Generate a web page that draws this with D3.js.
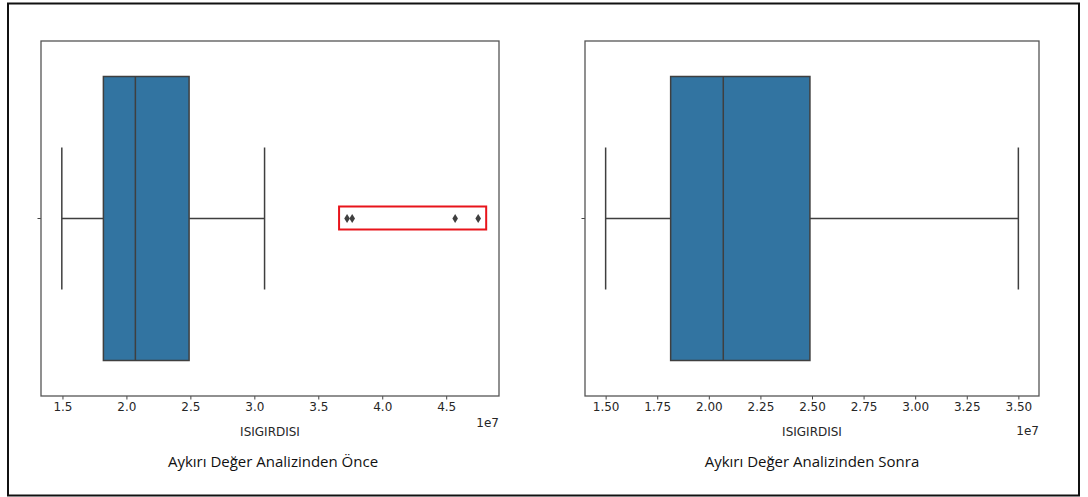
<!DOCTYPE html>
<html>
<head>
<meta charset="utf-8">
<script src="https://cdn.jsdelivr.net/npm/d3@7"></script>
<style>
  body { margin: 0; background: #fff; }
  svg { display: block; }
</style>
</head>
<body>
<svg id="chart" width="1088" height="497"></svg>
<script>
// box summaries (values in units of 1e7)
var beforeBox = [1.495, 1.82, 2.07, 2.49, 3.08];   // whisker low, q1, median, q3, whisker high
var beforeOutliers = [3.725, 3.765, 4.57, 4.75];
var beforeTicks = [1.5, 2.0, 2.5, 3.0, 3.5, 4.0, 4.5];

var afterBox = [1.5, 1.815, 2.07, 2.49, 3.5];
var afterOutliers = [];
var afterTicks = [1.5, 1.75, 2.0, 2.25, 2.5, 2.75, 3.0, 3.25, 3.5];

var xLabel = 'ISIGIRDISI';
var captions = ['Aykırı Değer Analizinden Önce', 'Aykırı Değer Analizinden Sonra'];

var svg = d3.select('#chart');
var boxFill = '#3274a1';
var lineColor = '#3f3f3f';

// outer frame
svg.append('rect')
    .attr('x', 8).attr('y', 3.5)
    .attr('width', 1071).attr('height', 492)
    .attr('fill', 'none').attr('stroke', '#111').attr('stroke-width', 2);

var drawPanel = function(opts) {
    var left = opts.left, right = opts.right, top = 41, bottom = 396;
    var all = opts.box.concat(opts.outliers);
    var lo = d3.min(all), hi = d3.max(all);
    var pad = (hi - lo) * 0.05;

    var x = d3.scaleLinear().domain([lo - pad, hi + pad]).range([left, right]);
    var y = d3.scaleLinear().domain([-0.5, 0.5]).range([top, bottom]);

    var g = svg.append('g');

    // x axis
    var axis = d3.axisBottom(x)
        .tickValues(opts.ticks)
        .tickSize(3.5)
        .tickPadding(3)
        .tickFormat(d3.format(opts.fmt));
    var ax = g.append('g')
        .attr('transform', 'translate(0,' + bottom + ')')
        .call(axis);
    ax.select('.domain').remove();
    ax.selectAll('line').attr('stroke', '#444').attr('stroke-width', 1);
    ax.selectAll('text')
        .attr('fill', '#262626')
        .style('font-family', 'DejaVu Sans, sans-serif')
        .style('font-size', '12px');

    // lone y tick
    g.append('line')
        .attr('x1', left - 3.5).attr('x2', left)
        .attr('y1', y(0)).attr('y2', y(0))
        .attr('stroke', '#444');

    var b = opts.box;
    var cy = y(0);
    var bw = y(0.4) - y(0);
    var cw = bw / 2;

    // whiskers
    g.append('line')
        .attr('x1', x(b[0])).attr('x2', x(b[1]))
        .attr('y1', cy).attr('y2', cy)
        .attr('stroke', lineColor).attr('stroke-width', 1.5);
    g.append('line')
        .attr('x1', x(b[3])).attr('x2', x(b[4]))
        .attr('y1', cy).attr('y2', cy)
        .attr('stroke', lineColor).attr('stroke-width', 1.5);
    [b[0], b[4]].forEach(function(v) {
        g.append('line')
            .attr('x1', x(v)).attr('x2', x(v))
            .attr('y1', cy - cw).attr('y2', cy + cw)
            .attr('stroke', lineColor).attr('stroke-width', 1.5);
    });

    // box
    g.append('rect')
        .attr('x', x(b[1])).attr('y', cy - bw)
        .attr('width', x(b[3]) - x(b[1])).attr('height', bw * 2)
        .attr('fill', boxFill)
        .attr('stroke', lineColor).attr('stroke-width', 1.5);
    g.append('line')
        .attr('x1', x(b[2])).attr('x2', x(b[2]))
        .attr('y1', cy - bw).attr('y2', cy + bw)
        .attr('stroke', lineColor).attr('stroke-width', 1.5);

    // outliers as diamonds
    g.selectAll('path.flier')
        .data(opts.outliers)
        .enter().append('path')
        .attr('class', 'flier')
        .attr('d', function(d) {
            var px = x(d);
            return 'M ' + px + ' ' + (cy - 4.5) + ' L ' + (px + 2.8) + ' ' + cy +
                ' L ' + px + ' ' + (cy + 4.5) + ' L ' + (px - 2.8) + ' ' + cy + ' z';
        })
        .attr('fill', '#3f3f3f');

    // axes frame
    g.append('rect')
        .attr('x', left).attr('y', top)
        .attr('width', right - left).attr('height', bottom - top)
        .attr('fill', 'none').attr('stroke', '#555').attr('stroke-width', 1.3);

    // labels
    g.append('text')
        .attr('x', (left + right) / 2).attr('y', 436)
        .attr('text-anchor', 'middle')
        .attr('fill', '#262626')
        .style('font-family', 'DejaVu Sans, sans-serif')
        .style('font-size', '12px')
        .text(xLabel);
    g.append('text')
        .attr('x', right).attr('y', opts.offsetY)
        .attr('text-anchor', 'end')
        .attr('fill', '#262626')
        .style('font-family', 'DejaVu Sans, sans-serif')
        .style('font-size', '12px')
        .text('1e7');
    g.append('text')
        .attr('x', opts.captionX).attr('y', 467)
        .attr('text-anchor', 'middle')
        .attr('fill', '#111')
        .style('font-family', 'Open Sans, sans-serif')
        .style('font-size', '15px')
        .text(opts.caption);

    return x;
};

var xBefore = drawPanel({
    left: 41, right: 499, box: beforeBox, outliers: beforeOutliers,
    ticks: beforeTicks, fmt: '.1f', offsetY: 427, caption: captions[0], captionX: 273
});
drawPanel({
    left: 585, right: 1039, box: afterBox, outliers: afterOutliers,
    ticks: afterTicks, fmt: '.2f', offsetY: 435, caption: captions[1], captionX: 812
});

// red highlight around the outliers
var lo = d3.min(beforeOutliers), hi = d3.max(beforeOutliers);
svg.append('rect')
    .attr('x', xBefore(lo) - 8).attr('y', 206.5)
    .attr('width', xBefore(hi) - xBefore(lo) + 16).attr('height', 23)
    .attr('fill', 'none').attr('stroke', '#e8141b').attr('stroke-width', 2);
</script>
</body>
</html>
